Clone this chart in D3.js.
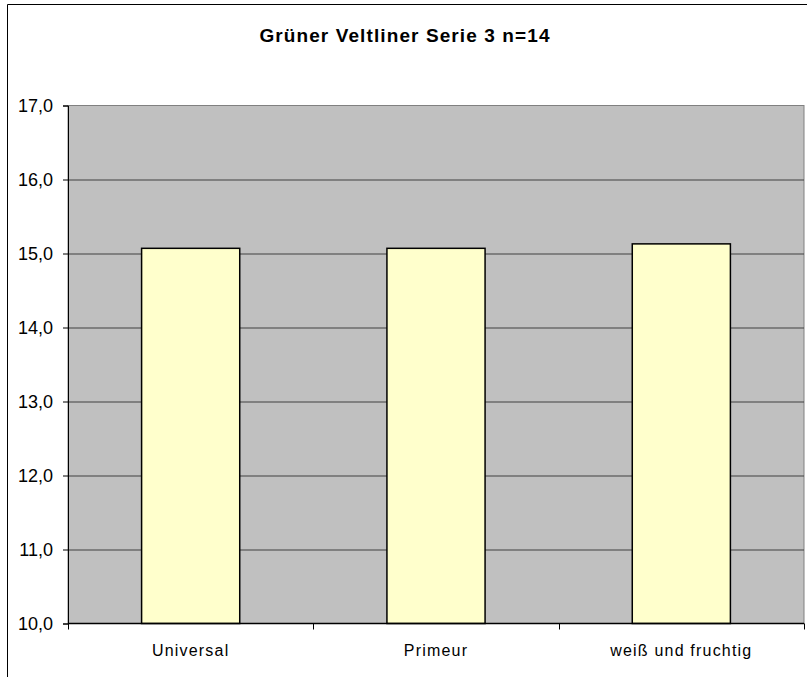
<!DOCTYPE html>
<html>
<meta charset="utf-8">
<script src="https://d3js.org/d3.v7.js"></script>
<style>
    body { margin: 0; background: #fff; }
    text { font-family: "Liberation Sans", Arial, sans-serif; }
</style>
<body>
    <div id="chart"></div>
    <script>

        // data
        var categories = ["Universal", "Primeur", "weiß und fruchtig"];
        var values = [15.07, 15.07, 15.13];
        var yTicks = [10, 11, 12, 13, 14, 15, 16, 17];
        var title = "Grüner Veltliner Serie 3 n=14";

        var W = 807, H = 677;
        var margin = { top: 105.5, right: 3, bottom: 53.5, left: 68 },
            width = W - margin.left - margin.right,
            height = H - margin.top - margin.bottom;

        var svg = d3.select("#chart")
            .append("svg")
            .attr("width", W)
            .attr("height", H);

        // outer frame (runs off the right and bottom edges)
        svg.append("path")
            .attr("d", "M7.5," + H + "V4.5H" + W)
            .attr("fill", "none")
            .attr("stroke", "#000")
            .attr("stroke-width", 1);

        svg.append("text")
            .attr("x", 405)
            .attr("y", 42)
            .attr("text-anchor", "middle")
            .style("font-size", "19px")
            .style("font-weight", "bold")
            .style("letter-spacing", "1.1px")
            .text(title);

        var g = svg.append("g")
            .attr("transform", "translate(" + margin.left + "," + margin.top + ")");

        var x = d3.scaleBand()
            .domain(categories)
            .range([0, width])
            .paddingInner(0.6)
            .paddingOuter(0.3);

        var y = d3.scaleLinear()
            .domain([10, 17])
            .range([height, 0]);

        // plot background
        g.append("rect")
            .attr("width", width)
            .attr("height", height)
            .attr("fill", "#c0c0c0")
            .attr("stroke", "#808080");

        // gridlines
        g.selectAll(".grid")
            .data(yTicks.slice(1, -1))
            .enter()
            .append("line")
            .attr("x1", 0)
            .attr("x2", width)
            .attr("y1", function (d) { return Math.round(y(d)) + 0.5 })
            .attr("y2", function (d) { return Math.round(y(d)) + 0.5 })
            .attr("stroke", "#404040");

        // bars
        g.selectAll(".bar")
            .data(values)
            .enter()
            .append("rect")
            .attr("x", function (d, i) { return x(categories[i]) })
            .attr("y", function (d) { return y(d) })
            .attr("width", x.bandwidth())
            .attr("height", function (d) { return height - y(d) })
            .attr("fill", "#ffffcc")
            .attr("stroke", "#000")
            .attr("stroke-width", 1.5);

        // y axis
        var yAxis = g.append("g")
            .call(d3.axisLeft(y).tickValues(yTicks).tickSize(5).tickPadding(10)
                .tickFormat(function (d) { return d3.format(".1f")(d).replace(".", ",") }));
        yAxis.select(".domain").attr("stroke", "#000");
        yAxis.selectAll("text")
            .style("font-size", "18px")
            .style("font-family", "Liberation Sans, Arial, sans-serif")
            .attr("fill", "#000");

        // x axis: ticks at category boundaries
        var xb = d3.scaleLinear().domain([0, categories.length]).range([0, width]);
        var xAxis = g.append("g")
            .attr("transform", "translate(0," + height + ")");
        xAxis.append("line")
            .attr("x1", 0).attr("x2", width)
            .attr("stroke", "#000").attr("stroke-width", 1.5);
        xAxis.selectAll(".tk")
            .data(d3.range(categories.length + 1))
            .enter()
            .append("line")
            .attr("x1", function (d) { return Math.round(xb(d)) + 0.5 })
            .attr("x2", function (d) { return Math.round(xb(d)) + 0.5 })
            .attr("y1", 0).attr("y2", 6)
            .attr("stroke", "#000");
        xAxis.selectAll(".lbl")
            .data(categories)
            .enter()
            .append("text")
            .attr("x", function (d) { return x(d) + x.bandwidth() / 2 })
            .attr("y", 32)
            .attr("text-anchor", "middle")
            .style("font-size", "16px")
            .style("letter-spacing", "1.2px")
            .text(function (d) { return d });

    </script>
</body>

</html>
